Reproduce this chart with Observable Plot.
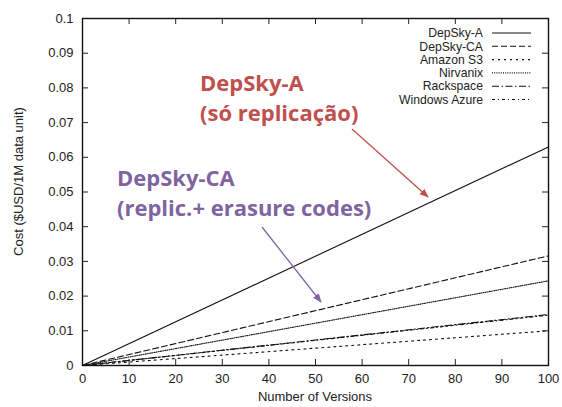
<!DOCTYPE html>
<html>
<head>
<meta charset="utf-8">
<script src="https://cdn.jsdelivr.net/npm/d3@7"></script>
<script src="https://cdn.jsdelivr.net/npm/@observablehq/plot@0.6"></script>
<style>
  html, body { margin: 0; padding: 0; background: #fff; }
  #chart svg { display: block; }
</style>
</head>
<body>
<div id="chart"></div>
<script>
// Data
const versions = [0, 100];
const seriesNames = ["DepSky-A", "DepSky-CA", "Amazon S3", "Nirvanix", "Rackspace", "Windows Azure"];
const depskyA = [0, 0.063];
const depskyCA = [0, 0.0316];
const amazonS3 = [0, 0.0100];
const nirvanix = [0, 0.0244];
const rackspace = [0, 0.0147];
const windowsAzure = [0, 0.0145];
const xTicks = [0, 10, 20, 30, 40, 50, 60, 70, 80, 90, 100];
const yTicks = [0, 0.01, 0.02, 0.03, 0.04, 0.05, 0.06, 0.07, 0.08, 0.09, 0.1];
const dashes = ["none", "6,3", "2,4", "1,1.2", "7,2.5,1.5,2.5", "3,3,1,3"];

const allValues = [depskyA, depskyCA, amazonS3, nirvanix, rackspace, windowsAzure];
const rows = [];
seriesNames.forEach((name, i) => {
  versions.forEach((v, j) => rows.push({series: name, idx: i, x: v, y: allValues[i][j]}));
});

const W = 562, H = 407;
const mL = 82, mR = 14, mT = 18, mB = 42;
const fw = W - mL - mR, fh = H - mT - mB;
const font = "Liberation Sans, Arial, sans-serif";

const marks = [];
seriesNames.forEach((name, i) => {
  marks.push(Plot.line(rows.filter(r => r.idx === i), {
    x: "x", y: "y", stroke: "#111", strokeWidth: 1.1,
    strokeDasharray: dashes[i] === "none" ? null : dashes[i]
  }));
});

// inward ticks on all sides
const innerX = xTicks.filter(d => d > 0 && d < 100);
const innerY = yTicks.filter(d => d > 0 && d < 0.1);
marks.push(Plot.tickX(innerX, {x: d => d, insetTop: fh - 6, stroke: "#222"}));
marks.push(Plot.tickX(innerX, {x: d => d, insetBottom: fh - 6, stroke: "#222"}));
marks.push(Plot.tickY(innerY, {y: d => d, insetRight: fw - 6, stroke: "#222"}));
marks.push(Plot.tickY(innerY, {y: d => d, insetLeft: fw - 6, stroke: "#222"}));
marks.push(Plot.frame({stroke: "#111", strokeWidth: 1.4}));

marks.push(Plot.axisX({ticks: xTicks, tickSize: 0, tickPadding: 8, fontSize: 13, label: null, tickFormat: d => String(d)}));
marks.push(Plot.axisY({ticks: yTicks, tickSize: 0, tickPadding: 9, fontSize: 13, label: null, tickFormat: d => String(d)}));

const plot = Plot.plot({
  width: W, height: H,
  marginLeft: mL, marginRight: mR, marginTop: mT, marginBottom: mB,
  style: {fontFamily: font, fontSize: "13px", color: "#222", background: "#fff"},
  x: {domain: [0, 100]},
  y: {domain: [0, 0.1]},
  marks
});

const svg = d3.select(plot);

// Legend (inside frame, top right)
const leg = svg.append("g").attr("font-family", font).attr("font-size", 12.2);
seriesNames.forEach((name, i) => {
  const y = mT + 15 + i * 13.3;
  leg.append("text").text(name).attr("x", W - mR - 65).attr("y", y)
    .attr("dy", "0.35em").attr("text-anchor", "end").attr("fill", "#222");
  const line = leg.append("line")
    .attr("x1", W - mR - 56).attr("x2", W - mR - 17)
    .attr("y1", y).attr("y2", y)
    .attr("stroke", "#111").attr("stroke-width", 1.1);
  if (dashes[i] !== "none") line.attr("stroke-dasharray", dashes[i]);
});

// axis labels
svg.append("text").text("Number of Versions")
  .attr("x", mL + fw / 2).attr("y", 401).attr("text-anchor", "middle")
  .attr("font-size", 13).attr("fill", "#222").attr("font-family", font);
svg.append("text").text("Cost ($USD/1M data unit)")
  .attr("transform", `translate(23,${mT + fh / 2 - 10}) rotate(-90)`)
  .attr("text-anchor", "middle")
  .attr("font-size", 13).attr("fill", "#222").attr("font-family", font);

// annotations
const annFont = "'Open Sans', Lato, sans-serif";
const defs = svg.append("defs");
function marker(id, color) {
  defs.append("marker").attr("id", id).attr("viewBox", "0 0 10 10")
    .attr("refX", 9).attr("refY", 5).attr("markerWidth", 7).attr("markerHeight", 7)
    .attr("orient", "auto")
    .append("path").attr("d", "M0,1 L10,5 L0,9 z").attr("fill", color);
}
const red = "#c0504d", purple = "#8064a2";
marker("arrRed", red); marker("arrPurple", purple);

const annA = ["DepSky-A", "(só replicação)"];
const annCA = ["DepSky-CA", "(replic.+ erasure codes)"];
annA.forEach((t, i) => svg.append("text").text(t)
  .attr("x", 200).attr("y", 91 + i * 30).attr("text-anchor", "start")
  .attr("font-size", 22).attr("font-weight", "bold").attr("fill", red).attr("font-family", annFont));
annCA.forEach((t, i) => svg.append("text").text(t)
  .attr("x", 117).attr("y", 186 + i * 30).attr("text-anchor", "start")
  .attr("font-size", 22).attr("font-weight", "bold").attr("fill", purple).attr("font-family", annFont));

svg.append("line").attr("x1", 352).attr("y1", 129).attr("x2", 428).attr("y2", 197)
  .attr("stroke", red).attr("stroke-width", 1.3).attr("marker-end", "url(#arrRed)");
svg.append("line").attr("x1", 262).attr("y1", 227).attr("x2", 321).attr("y2", 302)
  .attr("stroke", purple).attr("stroke-width", 1.3).attr("marker-end", "url(#arrPurple)");

document.getElementById("chart").appendChild(plot);
</script>
</body>
</html>
